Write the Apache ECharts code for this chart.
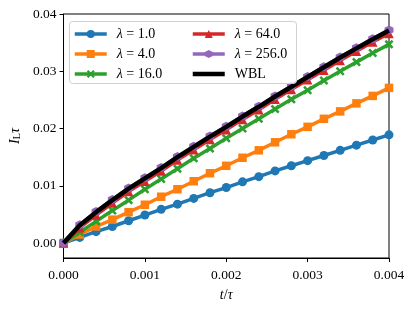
<!DOCTYPE html>
<html>
<head>
<meta charset="utf-8">
<script src="https://cdn.jsdelivr.net/npm/echarts@6/dist/echarts.min.js"></script>
<style>html,body{margin:0;padding:0;background:#fff}#c{width:415px;height:310px}</style>
</head>
<body>
<div id="c"></div>
<script>
// time values t/tau
const t = [0,0.0002,0.0004,0.0006,0.0008,0.0010,0.0012,0.0014,0.0016,0.0018,0.0020,0.0022,0.0024,0.0026,0.0028,0.0030,0.0032,0.0034,0.0036,0.0038,0.0040];
// I_L * tau for each lambda
const lam1   = [0,0.0010,0.0020,0.0029,0.0039,0.0049,0.0059,0.0068,0.0078,0.0088,0.0097,0.0107,0.0116,0.0126,0.0135,0.0144,0.0153,0.0162,0.0171,0.0180,0.0189];
const lam4   = [0,0.0015,0.0029,0.0041,0.0054,0.0067,0.0081,0.0094,0.0108,0.0122,0.0135,0.0149,0.0162,0.0176,0.0190,0.0203,0.0217,0.0230,0.0244,0.0257,0.0271];
const lam16  = [0,0.0019,0.0038,0.0057,0.0075,0.0094,0.0112,0.0130,0.0148,0.0165,0.0183,0.0200,0.0217,0.0234,0.0251,0.0267,0.0284,0.0300,0.0316,0.0332,0.0347];
const lam64  = [0,0.0027,0.0049,0.0070,0.0090,0.0108,0.0126,0.0145,0.0163,0.0181,0.0198,0.0216,0.0233,0.0251,0.0268,0.0285,0.0302,0.0319,0.0335,0.0351,0.0366];
const lam256 = [0,0.0032,0.0055,0.0076,0.0096,0.0114,0.0132,0.0151,0.0169,0.0187,0.0204,0.0222,0.0239,0.0257,0.0274,0.0291,0.0308,0.0325,0.0341,0.0357,0.0372];
const wbl    = [0,0.0031,0.0054,0.0075,0.0095,0.0113,0.0131,0.0150,0.0168,0.0186,0.0203,0.0221,0.0238,0.0256,0.0273,0.0290,0.0307,0.0324,0.0340,0.0356,0.0371];
const names = ['λ = 1.0','λ = 4.0','λ = 16.0','λ = 64.0','λ = 256.0','WBL'];
const yTicks = [0,0.01,0.02,0.03,0.04];

const FONT = 'Liberation Serif';
const X_PATH = 'path://M2,0 L5,3 L8,0 L10,2 L7,5 L10,8 L8,10 L5,7 L2,10 L0,8 L3,5 L0,2 Z';
const HEX_PATH = 'path://M5,0 L9.33,2.5 L9.33,7.5 L5,10 L0.67,7.5 L0.67,2.5 Z';
const BAR_PATH = 'path://M0,0 L32,0 L32,4.5 L0,4.5 Z';

function pairs(arr){ return t.map((x,i)=>[x, arr[i]]); }
function mk(name, arr, color, symbol, size, width, z){
  return {
    name, type:'line', data:pairs(arr), color,
    symbol, symbolSize:size, showSymbol: symbol !== 'none',
    lineStyle:{width, color}, itemStyle:{color, borderWidth:0},
    emphasis:{disabled:true}, z
  };
}
const legText = {
  fontFamily: FONT, fontSize: 14, color:'#000', padding:[0,0,0,5],
  rich:{ i:{fontFamily:FONT, fontStyle:'italic', fontSize:14, color:'#000'}, r:{fontFamily:FONT, fontSize:14, color:'#000'} }
};
function legFmt(n){
  if (n.startsWith('λ')) return '{i|λ}{r|' + n.slice(1) + '}';
  return '{r|' + n + '}';
}
function legend(data, left){
  return {data, left, top:27, padding:0, orient:'vertical', itemWidth:32, itemHeight:10, itemGap:6,
    lineStyle:{width:3.5}, textStyle:legText, formatter:legFmt, selectedMode:false, z:10};
}

const chart = echarts.init(document.getElementById('c'), null, {renderer:'canvas'});
chart.setOption({
  animation:false,
  backgroundColor:'#fff',
  grid:{left:62, right:26, top:14, bottom:52, show:true, borderColor:'#000', borderWidth:1, backgroundColor:'transparent'},
  xAxis:{
    type:'value', min:0, max:0.004, interval:0.001,
    name:'{i|t}{r|/}{i|τ}', nameLocation:'middle', nameGap:30,
    nameTextStyle:{rich:{i:{fontFamily:FONT,fontStyle:'italic',fontSize:14,color:'#000'}, r:{fontFamily:FONT,fontSize:14,color:'#000'}}},
    axisLine:{show:true, onZero:false, lineStyle:{color:'#000', width:1}},
    axisTick:{show:true, inside:false, length:4, lineStyle:{color:'#000'}},
    axisLabel:{fontFamily:FONT, fontSize:13.5, color:'#000', margin:10, formatter:v=>v.toFixed(3), showMinLabel:true, showMaxLabel:true},
    splitLine:{show:false}
  },
  yAxis:{
    type:'value', min:-0.0026, max:0.04,
    name:'{i|I}{s|L}{i|τ}', nameLocation:'middle', nameGap:40, nameRotate:90,
    nameTextStyle:{rich:{i:{fontFamily:FONT,fontStyle:'italic',fontSize:14,color:'#000'}, s:{fontFamily:FONT,fontSize:10,color:'#000', padding:[4,0,0,0]}}},
    axisLine:{show:true, onZero:false, lineStyle:{color:'#000', width:1}},
    axisTick:{show:true, inside:false, length:4, lineStyle:{color:'#000'}, customValues:yTicks},
    axisLabel:{fontFamily:FONT, fontSize:13.5, color:'#000', margin:7, formatter:v=>v.toFixed(2), customValues:yTicks},
    splitLine:{show:false}
  },
  legend:[
    legend(names.slice(0,3), 73),
    legend([names[3], names[4], {name:names[5], icon:BAR_PATH}], 191)
  ],
  graphic:[{type:'rect', shape:{x:69.5, y:21.5, width:227, height:62, r:3},
    style:{fill:'rgba(255,255,255,0.8)', stroke:'#d0d0d0', lineWidth:1}, z:9}],
  series:[
    mk(names[0], lam1,   '#1f77b4', 'circle',   9, 3.5, 2),
    mk(names[1], lam4,   '#ff7f0e', 'rect',     8.5, 3.5, 3),
    mk(names[2], lam16,  '#2ca02c', X_PATH,     9, 3.5, 4),
    mk(names[3], lam64,  '#d62728', 'triangle', 9.5, 3.5, 5),
    mk(names[4], lam256, '#9467bd', HEX_PATH,   9, 3.5, 6),
    mk(names[5], wbl,    '#000000', 'none',     0, 4.5, 7)
  ]
});
</script>
</body>
</html>
